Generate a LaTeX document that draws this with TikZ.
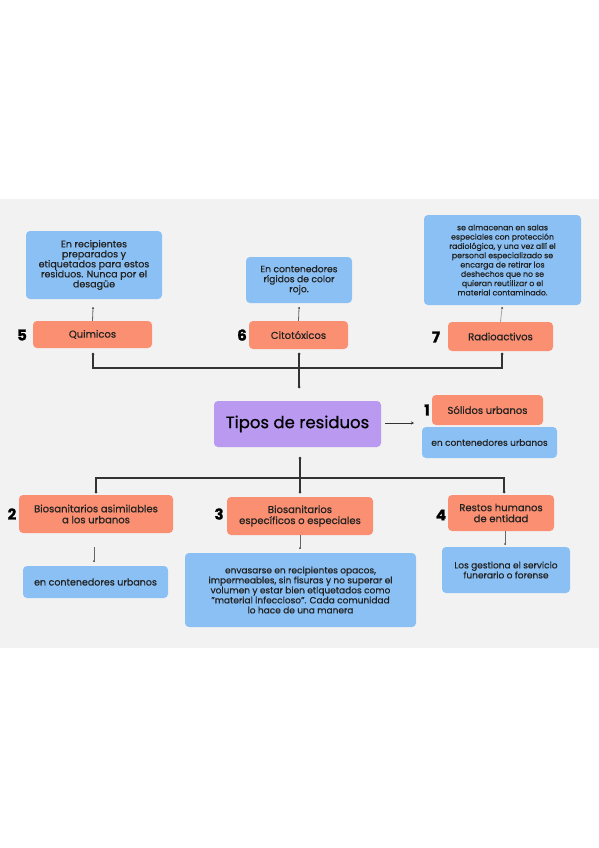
\documentclass[tikz,border=0pt]{standalone}
\usepackage{fontspec}
\setmainfont{Poppins}[FakeBold=0.6,BoldFeatures={FakeBold=1.2}]
\usetikzlibrary{arrows.meta}
\definecolor{bgc}{HTML}{F2F2F2}
\definecolor{orangec}{HTML}{FA8F72}
\definecolor{bluec}{HTML}{8BC0F4}
\definecolor{purplec}{HTML}{B99AF0}
\definecolor{textc}{HTML}{222222}
\definecolor{linec}{HTML}{333333}
\definecolor{thinc}{HTML}{666666}
\begin{document}
\begin{tikzpicture}[x=1pt,y=-1pt,
  basebox/.style={rounded corners=4pt, inner sep=0pt, align=center, text=textc},
  orangebox/.style={basebox, fill=orangec, font=\fontsize{10}{11}\selectfont},
  bluebox/.style={basebox, fill=bluec, font=\fontsize{9.2}{10}\selectfont},
  numlab/.style={font=\bfseries\fontsize{15}{15}\selectfont, text=black, inner sep=0pt},
  dotc/.style={circle, fill=linec, inner sep=0pt, minimum size=3pt},
  tree/.style={draw=linec, line width=1.5pt},
  thin/.style={draw=thinc, line width=0.8pt}
]
\useasboundingbox (0,0) rectangle (599,848);
\fill[white] (0,0) rectangle (599,848);
\fill[bgc] (0,199) rectangle (599,648);

% top row
\node[bluebox, minimum width=136pt, minimum height=68pt, font=\fontsize{9.5}{10}\selectfont] (b5) at (94,265)
  {En recipientes\\ preparados y\\ etiquetados para estos\\ residuos. Nunca por el\\ desagüe};
\node[orangebox, minimum width=119pt, minimum height=27pt] (q5) at (92.5,334.5) {Quimicos};
\node[numlab] (n5) at (22,335) {5};

\node[bluebox, minimum width=106pt, minimum height=46pt] (b6) at (299,280)
  {En contenedores\\ rígidos de color\\ rojo.};
\node[orangebox, minimum width=99pt, minimum height=28pt] (q6) at (298.5,335) {Citotóxicos};
\node[numlab] (n6) at (242,335) {6};

\node[bluebox, minimum width=157pt, minimum height=90pt, font=\fontsize{7.8}{9.3}\selectfont] (b7) at (502.5,260)
  {se almacenan en salas\\ especiales con protección\\ radiológica, y una vez allí el\\ personal especializado se\\ encarga de retirar los\\ deshechos que no se\\ quieran reutilizar o el\\ material contaminado.};
\node[orangebox, minimum width=105pt, minimum height=29pt] (q7) at (500.5,336.5) {Radioactivos};
\node[numlab] (n7) at (436,337) {7};

% centre
\node[basebox, fill=purplec, minimum width=167pt, minimum height=46pt, font=\fontsize{16.5}{18}\selectfont, text=black] (T) at (297.5,424) {Tipos de residuos};
\node[numlab] (n1) at (427,410) {1};
\node[orangebox, minimum width=111pt, minimum height=30pt] (s1) at (487.5,410) {Sólidos urbanos};
\node[bluebox, minimum width=135pt, minimum height=31pt, font=\fontsize{9}{10}\selectfont] (s1b) at (489.5,442.5) {en contenedores urbanos};

% bottom row
\node[orangebox, minimum width=154pt, minimum height=38pt] (o2) at (96,514) {Biosanitarios asimilables\\ a los urbanos};
\node[numlab] (n2) at (12,514) {2};
\node[bluebox, minimum width=145pt, minimum height=32pt, font=\fontsize{9.5}{10}\selectfont] (b2) at (95.5,582) {en contenedores urbanos};

\node[orangebox, minimum width=146pt, minimum height=38pt] (o3) at (300,516) {Biosanitarios\\ específicos o especiales};
\node[numlab] (n3) at (219,514) {3};
\node[bluebox, minimum width=231pt, minimum height=74pt, font=\fontsize{9}{10}\selectfont] (b3) at (300.5,590)
  {envasarse en recipientes opacos,\\ impermeables, sin fisuras y no superar el\\ volumen y estar bien etiquetados como\\ "material infeccioso". Cada comunidad\\ lo hace de una manera};

\node[orangebox, minimum width=106pt, minimum height=36pt] (o4) at (501,513) {Restos humanos\\ de entidad};
\node[numlab] (n4) at (441,515) {4};
\node[bluebox, minimum width=128pt, minimum height=46pt, font=\fontsize{9}{10}\selectfont] (b4) at (506,570) {Los gestiona el servicio\\ funerario o forense};

% coordinates
\coordinate (u5) at (93,308);
\coordinate (u6) at (299,308);
\coordinate (u7) at (502,308);
\node[dotc] (t5) at (93,354) {};
\node[dotc] (t6) at (299,354) {};
\node[dotc] (t7) at (502,354) {};
\node[dotc] (tc) at (299,387) {};
\coordinate (h1) at (299,368);
\node[dotc] (bt) at (300,458) {};
\node[dotc] (bb) at (300,492) {};
\node[dotc] (bl) at (96,492) {};
\node[dotc] (br) at (504,492) {};
\coordinate (h2) at (300,478);
\coordinate (a0) at (385,423);
\coordinate (a1) at (414,423);
\coordinate (d2a) at (94,547);
\node[dotc, minimum size=2pt] (d2b) at (94,561) {};
\node[dotc, minimum size=2pt] (d3) at (300,548) {};
\coordinate (u4) at (505,531);
\node[dotc, minimum size=2pt] (d4) at (505,544) {};

% top connectors
\draw[thin] (q5.north) -- (u5);
\fill[linec] (u5) circle (1pt);
\draw[thin] (q6.north) -- (u6);
\fill[linec] (u6) circle (1pt);
\draw[draw=thinc!60, line width=0.8pt] (q7.north) -- (u7);
\fill[linec] (u7) circle (1pt);

\draw[tree] (t5.center) |- (h1) -| (t7.center);
\draw[tree] (t6.center) -- (tc.center);

% right arrow
\draw[linec, line width=1pt, -{Stealth[length=3pt,width=3pt]}] (a0) -- (a1);

% bottom tree
\draw[tree] (bt.center) -- (bb.center);
\draw[tree] (bl.center) |- (h2) -| (br.center);

\draw[thin] (d2a) -- (d2b.center);
\draw[thin] (o3.south) -- (d3.center);
\draw[thin] (u4) -- (d4.center);
\end{tikzpicture}
\end{document}
